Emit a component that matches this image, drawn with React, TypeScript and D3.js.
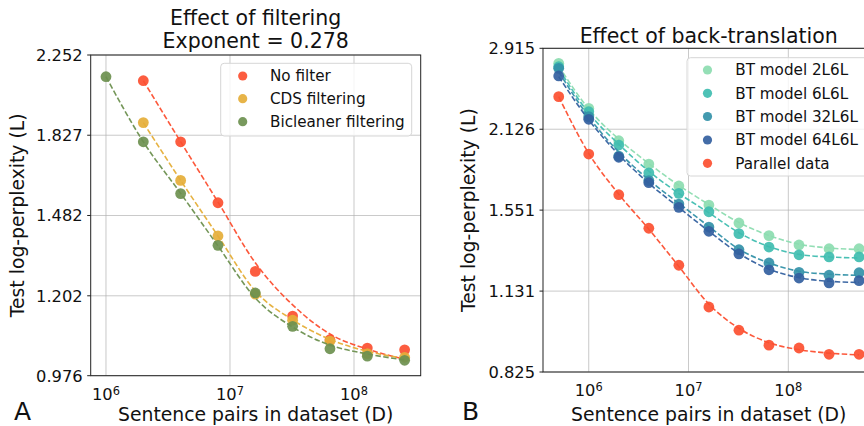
import React from "react";
import * as d3 from "d3";

// ---------- Panel A: effect of filtering ----------
const filterSizes = [2e6, 4e6, 8e6, 1.6e7, 3.2e7, 6.4e7, 1.28e8, 2.56e8];
const bicleanerSizes = [1e6, 2e6, 4e6, 8e6, 1.6e7, 3.2e7, 6.4e7, 1.28e8, 2.56e8];
const noFilterLoss = [2.106, 1.796, 1.532, 1.281, 1.14, 1.072, 1.049, 1.044];
const noFilterFit = [2.106, 1.796, 1.535, 1.31, 1.174, 1.088, 1.046, 1.019];
const cdsLoss = [1.888, 1.624, 1.405, 1.207, 1.128, 1.068, 1.034, 1.024];
const cdsFit = [1.888, 1.624, 1.405, 1.217, 1.129, 1.073, 1.04, 1.021];
const bicleanerLoss = [2.128, 1.796, 1.569, 1.371, 1.211, 1.11, 1.047, 1.027, 1.016];
const bicleanerFit = [2.128, 1.796, 1.57, 1.369, 1.195, 1.108, 1.057, 1.033, 1.017];
const namesA = ["No filter", "CDS filtering", "Bicleaner filtering"];
const colorsA = ["#fc4f30", "#e5ae38", "#6d904f"];
const yTicksA = [0.976, 1.202, 1.482, 1.827, 2.252];

// ---------- Panel B: effect of back-translation ----------
const btSizes = [5e5, 1e6, 2e6, 4e6, 8e6, 1.6e7, 3.2e7, 6.4e7, 1.28e8, 2.56e8, 5.12e8];
const bt2Loss = [2.749, 2.307, 2.033, 1.856, 1.704, 1.582, 1.475, 1.404, 1.354, 1.334, 1.334];
const bt6Loss = [2.713, 2.276, 1.999, 1.794, 1.656, 1.541, 1.415, 1.343, 1.303, 1.292, 1.292];
const bt32Loss = [2.696, 2.233, 1.915, 1.74, 1.588, 1.452, 1.329, 1.262, 1.217, 1.203, 1.215];
const bt64Loss = [2.617, 2.21, 1.906, 1.726, 1.568, 1.428, 1.308, 1.229, 1.19, 1.168, 1.178];
const parallelLoss = [2.414, 1.93, 1.647, 1.445, 1.251, 1.063, 0.971, 0.916, 0.906, 0.884, 0.884];
const bt2Fit = [2.72, 2.3, 2.045, 1.86, 1.708, 1.585, 1.478, 1.405, 1.358, 1.338, 1.33];
const bt6Fit = [2.69, 2.265, 2.005, 1.805, 1.655, 1.535, 1.42, 1.345, 1.305, 1.292, 1.287];
const bt32Fit = [2.66, 2.23, 1.945, 1.745, 1.593, 1.455, 1.332, 1.262, 1.222, 1.208, 1.203];
const bt64Fit = [2.61, 2.205, 1.925, 1.722, 1.567, 1.428, 1.31, 1.232, 1.192, 1.175, 1.17];
const parallelFit = [2.414, 1.935, 1.65, 1.44, 1.245, 1.075, 0.978, 0.925, 0.9, 0.888, 0.882];
const namesB = ["BT model 2L6L", "BT model 6L6L", "BT model 32L6L", "BT model 64L6L", "Parallel data"];
const colorsB = ["#8cdcb0", "#3fbdb0", "#3391a8", "#33609f", "#fc4f30"];
const yTicksB = [0.825, 1.131, 1.551, 2.126, 2.915];

const xTickExponents = [6, 7, 8];

type Series = { name: string; color: string; sizes: number[]; loss: number[]; fit: number[] };

const seriesA: Series[] = [
  { name: namesA[0], color: colorsA[0], sizes: filterSizes, loss: noFilterLoss, fit: noFilterFit },
  { name: namesA[1], color: colorsA[1], sizes: filterSizes, loss: cdsLoss, fit: cdsFit },
  { name: namesA[2], color: colorsA[2], sizes: bicleanerSizes, loss: bicleanerLoss, fit: bicleanerFit },
];
const seriesB: Series[] = [
  { name: namesB[0], color: colorsB[0], sizes: btSizes, loss: bt2Loss, fit: bt2Fit },
  { name: namesB[1], color: colorsB[1], sizes: btSizes, loss: bt6Loss, fit: bt6Fit },
  { name: namesB[2], color: colorsB[2], sizes: btSizes, loss: bt32Loss, fit: bt32Fit },
  { name: namesB[3], color: colorsB[3], sizes: btSizes, loss: bt64Loss, fit: bt64Fit },
  { name: namesB[4], color: colorsB[4], sizes: btSizes, loss: parallelLoss, fit: parallelFit },
];

const FONT = "DejaVu Sans, Liberation Sans, sans-serif";
const TICK_FS = 16.3;
const LABEL_FS = 18.8;
const LEGEND_FS = 15.2;
const TITLE_FS = 20.5;

type PanelProps = {
  frame: { x0: number; x1: number; y0: number; y1: number };
  xDomain: [number, number];
  yTicks: number[];
  series: Series[];
  legend: { x: number; y: number; w: number; h: number; mx: number; tx: number; rows: number[] };
  titles: { text: string; y: number }[];
  ylabelX: number;
  letter: string;
  letterX: number;
};

function Panel(p: PanelProps) {
  const { frame } = p;
  const x = d3.scaleLog().domain(p.xDomain).range([frame.x0, frame.x1]);
  const y = d3
    .scaleLog()
    .domain([p.yTicks[0], p.yTicks[p.yTicks.length - 1]])
    .range([frame.y1, frame.y0]);
  const line = d3
    .line<[number, number]>()
    .x((d) => x(d[0]))
    .y((d) => y(d[1]))
    .curve(d3.curveMonotoneX);
  const cx = (frame.x0 + frame.x1) / 2;
  const cy = (frame.y0 + frame.y1) / 2;
  return (
    <g fontFamily={FONT}>
      {/* grid */}
      {xTickExponents.map((e) => (
        <line key={"gx" + e} x1={x(10 ** e)} x2={x(10 ** e)} y1={frame.y0} y2={frame.y1} stroke="#b0b0b0" strokeWidth={0.9} opacity={0.75} />
      ))}
      {p.yTicks.map((t) => (
        <line key={"gy" + t} x1={frame.x0} x2={frame.x1} y1={y(t)} y2={y(t)} stroke="#b0b0b0" strokeWidth={0.9} opacity={0.75} />
      ))}
      {/* data */}
      {p.series.map((s) => (
        <g key={s.name}>
          <path
            d={line(s.sizes.map((d, i) => [d, s.fit[i]] as [number, number])) || ""}
            fill="none"
            stroke={s.color}
            strokeWidth={1.6}
            strokeDasharray="5.5 2.4"
            opacity={0.95}
          />
          {s.sizes.map((d, i) => (
            <circle key={i} cx={x(d)} cy={y(s.loss[i])} r={5.4} fill={s.color} opacity={0.92} />
          ))}
        </g>
      ))}
      {/* frame */}
      <rect x={frame.x0} y={frame.y0} width={frame.x1 - frame.x0} height={frame.y1 - frame.y0} fill="none" stroke="#222" strokeWidth={1} />
      {/* y ticks */}
      {p.yTicks.map((t) => (
        <g key={"yt" + t}>
          <line x1={frame.x0 - 3.5} x2={frame.x0} y1={y(t)} y2={y(t)} stroke="#222" strokeWidth={1} />
          <text x={frame.x0 - 8} y={y(t) + 5.9} textAnchor="end" fontSize={TICK_FS} fill="#111">
            {t.toFixed(3)}
          </text>
        </g>
      ))}
      {/* x ticks */}
      {xTickExponents.map((e) => (
        <text key={"xt" + e} x={x(10 ** e)} y={frame.y1 + 24.3} textAnchor="middle" fontSize={TICK_FS} fill="#111">
          10
          <tspan dy={-5.5} fontSize={11.4}>
            {e}
          </tspan>
        </text>
      ))}
      {/* axis labels */}
      <text x={cx} y={421} textAnchor="middle" fontSize={LABEL_FS} fill="#111">
        Sentence pairs in dataset (D)
      </text>
      <text transform={`translate(${p.ylabelX},${cy}) rotate(-90)`} textAnchor="middle" fontSize={LABEL_FS} fill="#111">
        Test log-perplexity (L)
      </text>
      {/* titles */}
      {p.titles.map((t) => (
        <text key={t.text} x={cx} y={t.y} textAnchor="middle" fontSize={TITLE_FS} fill="#111">
          {t.text}
        </text>
      ))}
      {/* legend */}
      <rect x={p.legend.x} y={p.legend.y} width={p.legend.w} height={p.legend.h} rx={3.5} fill="#fff" fillOpacity={0.8} stroke="#d6d6d6" strokeWidth={1} />
      {p.series.map((s, i) => (
        <g key={"lg" + s.name}>
          <circle cx={p.legend.mx} cy={p.legend.rows[i]} r={4.6} fill={s.color} opacity={0.92} />
          <text x={p.legend.tx} y={p.legend.rows[i] + 5.4} fontSize={LEGEND_FS} fill="#111">
            {s.name}
          </text>
        </g>
      ))}
      {/* panel letter */}
      <text x={p.letterX} y={419.5} fontSize={25} fill="#111">
        {p.letter}
      </text>
    </g>
  );
}

export default function App() {
  return (
    <svg width={864} height={426} style={{ position: "absolute", left: 0, top: 0, background: "#fff" }}>
      <rect width={864} height={426} fill="#fff" />
      <Panel
        frame={{ x0: 90.7, x1: 420.7, y0: 55, y1: 375.7 }}
        xDomain={[7.53e5, 3.45e8]}
        yTicks={yTicksA}
        series={seriesA}
        legend={{ x: 220.7, y: 63.3, w: 191, h: 72.7, mx: 242.7, tx: 270, rows: [76, 98.7, 121.7] }}
        titles={[
          { text: "Effect of filtering", y: 25 },
          { text: "Exponent = 0.278", y: 48 },
        ]}
        ylabelX={24}
        letter="A"
        letterX={14}
      />
      <Panel
        frame={{ x0: 543, x1: 874.4, y0: 48.3, y1: 372 }}
        xDomain={[3.48e5, 7.29e8]}
        yTicks={yTicksB}
        series={seriesB}
        legend={{ x: 687, y: 57.7, w: 205, h: 118.3, mx: 707.5, tx: 735.3, rows: [70, 93.3, 116.5, 140, 163.3] }}
        titles={[{ text: "Effect of back-translation", y: 42.7 }]}
        ylabelX={475}
        letter="B"
        letterX={462}
      />
    </svg>
  );
}
